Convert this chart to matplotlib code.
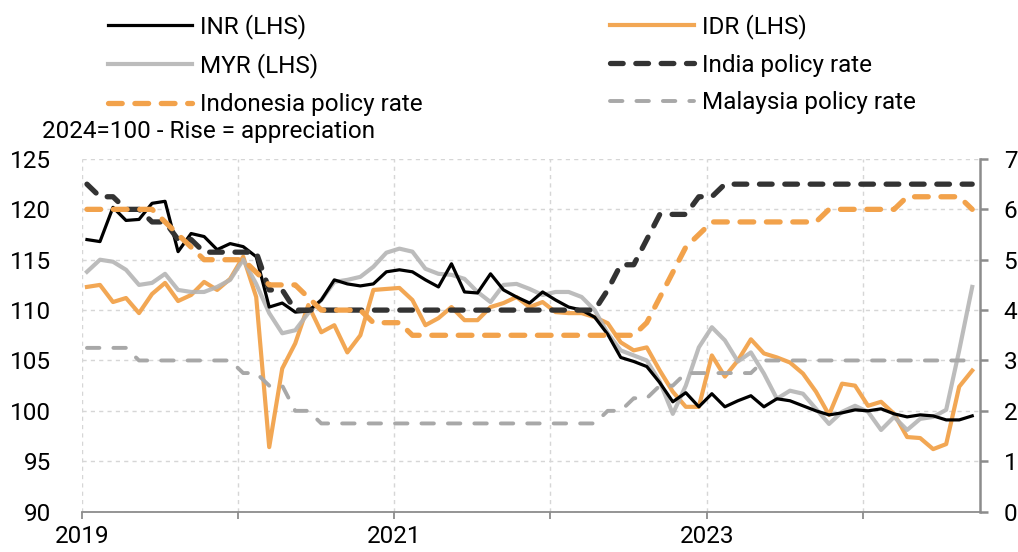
import numpy as np
import matplotlib
matplotlib.use("Agg")
from matplotlib import pyplot as plt

plt.rcParams['font.family'] = ['Roboto', 'DejaVu Sans']
plt.rcParams['font.size'] = 17.5

# monthly observations, Jan 2019 .. Sep 2024
months = np.arange(69)

inr = [117.0, 116.8, 120.2, 118.9, 119.0, 120.6, 120.8, 115.8, 117.6, 117.3, 116.0, 116.6,
       116.3, 115.3, 110.3, 110.7, 109.8, 109.9, 111.0, 113.0, 112.6, 112.4, 112.6, 113.8,
       114.0, 113.8, 113.0, 112.3, 114.6, 111.8, 111.7, 113.6, 112.0, 111.3, 110.7, 111.8,
       111.0, 110.3, 110.0, 109.3, 107.6, 105.3, 104.9, 104.4, 102.8, 100.9, 101.8, 100.4,
       101.7, 100.4, 101.0, 101.5, 100.4, 101.2, 101.0, 100.5, 100.0, 99.6, 99.8, 100.1,
       100.0, 100.2, 99.7, 99.4, 99.6, 99.5, 99.1, 99.1, 99.5]

idr = [112.3, 112.5, 110.8, 111.2, 109.7, 111.6, 112.7, 110.9, 111.5, 112.8, 112.0, 113.1,
       115.3, 111.3, 96.4, 104.2, 106.7, 110.5, 107.8, 108.5, 105.8, 107.5, 112.0, 112.1,
       112.2, 111.0, 108.5, 109.2, 110.3, 109.0, 109.0, 110.3, 110.7, 111.3, 110.3, 110.8,
       109.8, 109.7, 109.7, 109.3, 108.7, 106.8, 106.0, 106.3, 104.0, 101.9, 100.4, 100.4,
       105.5, 103.4, 105.0, 107.1, 105.7, 105.3, 104.8, 103.7, 101.9, 99.6, 102.7, 102.5,
       100.5, 100.9, 99.7, 97.4, 97.3, 96.2, 96.7, 102.4, 104.0]

myr = [113.8, 115.0, 114.8, 114.0, 112.5, 112.7, 113.6, 112.0, 111.8, 111.8, 112.3, 113.0,
       115.0, 112.6, 109.7, 107.7, 108.0, 109.7, 111.0, 112.8, 113.0, 113.3, 114.3, 115.7,
       116.1, 115.8, 114.1, 113.6, 113.5, 113.1, 111.8, 110.8, 112.5, 112.6, 112.1, 111.5,
       111.8, 111.8, 111.3, 110.0, 107.7, 106.0, 105.5, 105.0, 102.9, 99.7, 102.5, 106.3,
       108.3, 107.0, 104.9, 105.8, 103.7, 101.2, 102.0, 101.7, 100.2, 98.7, 99.9, 100.5,
       99.9, 98.1, 99.4, 98.1, 99.2, 99.4, 100.1, 106.0, 112.3]

india_rate = [6.5, 6.25, 6.25, 6.0, 6.0, 5.75, 5.75, 5.4, 5.4, 5.15, 5.15, 5.15,
              5.15, 5.15, 4.4, 4.4, 4.0, 4.0, 4.0, 4.0, 4.0, 4.0, 4.0, 4.0,
              4.0, 4.0, 4.0, 4.0, 4.0, 4.0, 4.0, 4.0, 4.0, 4.0, 4.0, 4.0,
              4.0, 4.0, 4.0, 4.0, 4.4, 4.9, 4.9, 5.4, 5.9, 5.9, 5.9, 6.25,
              6.25, 6.5, 6.5, 6.5, 6.5, 6.5, 6.5, 6.5, 6.5, 6.5, 6.5, 6.5,
              6.5, 6.5, 6.5, 6.5, 6.5, 6.5, 6.5, 6.5, 6.5]

indonesia_rate = [6.0, 6.0, 6.0, 6.0, 6.0, 6.0, 5.75, 5.5, 5.25, 5.0, 5.0, 5.0,
                  5.0, 4.75, 4.5, 4.5, 4.5, 4.25, 4.0, 4.0, 4.0, 4.0, 3.75, 3.75,
                  3.75, 3.5, 3.5, 3.5, 3.5, 3.5, 3.5, 3.5, 3.5, 3.5, 3.5, 3.5,
                  3.5, 3.5, 3.5, 3.5, 3.5, 3.5, 3.5, 3.75, 4.25, 4.75, 5.25, 5.5,
                  5.75, 5.75, 5.75, 5.75, 5.75, 5.75, 5.75, 5.75, 5.75, 6.0, 6.0, 6.0,
                  6.0, 6.0, 6.0, 6.25, 6.25, 6.25, 6.25, 6.25, 6.0]

malaysia_rate = [3.25, 3.25, 3.25, 3.25, 3.0, 3.0, 3.0, 3.0, 3.0, 3.0, 3.0, 3.0,
                 2.75, 2.75, 2.5, 2.5, 2.0, 2.0, 1.75, 1.75, 1.75, 1.75, 1.75, 1.75,
                 1.75, 1.75, 1.75, 1.75, 1.75, 1.75, 1.75, 1.75, 1.75, 1.75, 1.75, 1.75,
                 1.75, 1.75, 1.75, 1.75, 2.0, 2.0, 2.25, 2.25, 2.5, 2.5, 2.75, 2.75,
                 2.75, 2.75, 2.75, 2.75, 3.0, 3.0, 3.0, 3.0, 3.0, 3.0, 3.0, 3.0,
                 3.0, 3.0, 3.0, 3.0, 3.0, 3.0, 3.0, 3.0, 3.0]

year_ticks = [2019, 2020, 2021, 2022, 2023, 2024]
year_labels = ['2019', '', '2021', '', '2023', '']

t = 2019 + (months + 0.4) / 12

ORANGE = '#F2A24B'
GREY = '#B5B5B5'
DARK = '#333333'
MGREY = '#A8A8A8'
AXGREY = '#8C8C8C'

fig = plt.figure(figsize=(10.18, 5.52), dpi=100)
ax = fig.add_axes([0.0803, 0.0732, 0.8824, 0.6388])
ax2 = ax.twinx()

l_inr, = ax.plot(t, inr, color='black', lw=2.3, label='INR (LHS)', zorder=3)
l_idr, = ax.plot(t, idr, color=ORANGE, lw=3.0, alpha=0.95, label='IDR (LHS)', zorder=2)
l_myr, = ax.plot(t, myr, color=GREY, lw=3.0, alpha=0.9, label='MYR (LHS)', zorder=2)

l_ind, = ax2.plot(t, india_rate, color=DARK, lw=3.8, dashes=(2.4, 2.4),
                  dash_capstyle='round', label='India policy rate')
l_ido, = ax2.plot(t, indonesia_rate, color=ORANGE, lw=3.8, dashes=(2.6, 2.4),
                  dash_capstyle='round', label='Indonesia policy rate')
l_mal, = ax2.plot(t, malaysia_rate, color=MGREY, lw=2.8, dashes=(3.2, 3.6),
                  dash_capstyle='round', label='Malaysia policy rate')

ax.set_xlim(2019, 2024.75)
ax.set_ylim(90, 125)
ax.set_yticks(np.arange(90, 126, 5))
ax2.set_ylim(0, 7)
ax2.set_yticks(np.arange(0, 8, 1))
ax.set_xticks(year_ticks)
ax.set_xticklabels(year_labels)

ax.grid(True, color='#D6D6D6', lw=1.0, linestyle=(0, (3, 3)))
ax.set_axisbelow(True)

for a in (ax, ax2):
    a.spines['top'].set_visible(False)
    a.spines['left'].set_visible(False)
ax.spines['right'].set_visible(False)
ax2.spines['bottom'].set_visible(False)
ax.spines['bottom'].set_color(AXGREY)
ax.spines['bottom'].set_linewidth(1.3)
ax2.spines['right'].set_color(AXGREY)
ax2.spines['right'].set_linewidth(1.8)

ax.tick_params(axis='y', length=0, pad=22)
ax.tick_params(axis='x', length=5, width=1.3, color=AXGREY, pad=5)
ax2.tick_params(axis='y', length=6, width=1.8, color=AXGREY, pad=11)

leg_kw = dict(frameon=False, handlelength=3.45, handletextpad=0.35,
              labelspacing=0.6, borderpad=0, borderaxespad=0,
              loc='upper left', fontsize=17.5)
fig.legend([l_inr, l_myr, l_ido], ['INR (LHS)', 'MYR (LHS)', 'Indonesia policy rate'],
           bbox_to_anchor=(108 / 1018, 1 - 14 / 552), **leg_kw)
fig.legend([l_idr, l_ind, l_mal], ['IDR (LHS)', 'India policy rate', 'Malaysia policy rate'],
           bbox_to_anchor=(610 / 1018, 1 - 14 / 552), **leg_kw)

fig.text(42 / 1018, 1 - 131 / 552, '2024=100 - Rise = appreciation', va='center', ha='left')

fig.savefig('out.png', dpi=100)
plt.close(fig)
